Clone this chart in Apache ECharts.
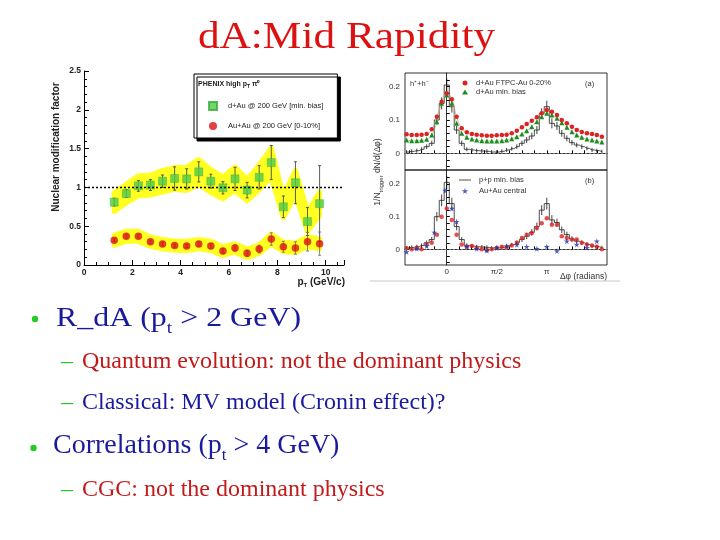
<!DOCTYPE html>
<html>
<head>
<meta charset="utf-8">
<script src="https://cdn.jsdelivr.net/npm/echarts@6/dist/echarts.min.js"></script>
<style>
  html, body { margin: 0; padding: 0; background: #fff; }
  #main { width: 720px; height: 540px; }
</style>
</head>
<body>
<div id="main"></div>
<script>
// ---- left plot: PHENIX pi0 nuclear modification factor ----
var ptBins = [1.25, 1.75, 2.25, 2.75, 3.25, 3.75, 4.25, 4.75, 5.25, 5.75, 6.25, 6.75, 7.25, 7.75, 8.25, 8.75, 9.25, 9.75];
var dAuRdA  = [0.81, 0.92, 1.02, 1.03, 1.08, 1.115, 1.11, 1.20, 1.08, 0.995, 1.11, 0.965, 1.13, 1.32, 0.75, 1.06, 0.56, 0.79];
var dAuStat = [0.05, 0.05, 0.07, 0.07, 0.08, 0.15, 0.13, 0.13, 0.09, 0.08, 0.15, 0.10, 0.15, 0.22, 0.14, 0.27, 0.18, 0.49];
var dAuSys  = [0.12, 0.12, 0.13, 0.13, 0.14, 0.14, 0.15, 0.16, 0.15, 0.14, 0.15, 0.14, 0.16, 0.19, 0.14, 0.16, 0.13, 0.15];
var auAuRAA  = [0.32, 0.37, 0.37, 0.30, 0.27, 0.25, 0.245, 0.27, 0.245, 0.18, 0.22, 0.15, 0.205, 0.335, 0.235, 0.22, 0.30, 0.275];
var auAuStat = [0.02, 0.02, 0.02, 0.02, 0.02, 0.02, 0.02, 0.03, 0.03, 0.03, 0.04, 0.04, 0.05, 0.08, 0.07, 0.08, 0.12, 0.15];
var auAuSys  = [0.065, 0.065, 0.065, 0.06, 0.06, 0.06, 0.06, 0.06, 0.06, 0.055, 0.055, 0.055, 0.055, 0.065, 0.06, 0.06, 0.065, 0.065];

// ---- right plot: STAR azimuthal correlations ----
var dphi = [-1.26, -1.10, -0.94, -0.79, -0.63, -0.47, -0.31, -0.16, 0, 0.16, 0.31, 0.47, 0.63, 0.79, 0.94, 1.10, 1.26, 1.41, 1.57, 1.73,
            1.88, 2.04, 2.20, 2.36, 2.51, 2.67, 2.83, 2.98, 3.14, 3.30, 3.46, 3.61, 3.77, 3.93, 4.08, 4.24, 4.40, 4.56, 4.71, 4.87];
var dAuCentral = [0.057, 0.055, 0.055, 0.056, 0.058, 0.072, 0.11, 0.155, 0.18, 0.162, 0.11, 0.075, 0.063, 0.058, 0.056, 0.054, 0.053, 0.053, 0.054, 0.055,
                  0.056, 0.06, 0.068, 0.078, 0.088, 0.098, 0.108, 0.12, 0.13, 0.125, 0.115, 0.10, 0.09, 0.08, 0.07, 0.064, 0.06, 0.058, 0.055, 0.05];
var dAuMinBias = [0.04, 0.038, 0.038, 0.039, 0.042, 0.055, 0.095, 0.15, 0.175, 0.15, 0.09, 0.06, 0.048, 0.043, 0.04, 0.038, 0.037, 0.037, 0.037, 0.038,
                  0.04, 0.044, 0.05, 0.058, 0.068, 0.08, 0.095, 0.11, 0.12, 0.115, 0.105, 0.092, 0.078, 0.065, 0.055, 0.048, 0.043, 0.04, 0.037, 0.034];
var ppMinBias = [0.004, 0.006, 0.008, 0.012, 0.02, 0.03, 0.10, 0.15, 0.205, 0.14, 0.07, 0.03, 0.012, 0.01, 0.008, 0.007, 0.006, 0.004, 0.004, 0.006,
                 0.01, 0.014, 0.02, 0.03, 0.04, 0.052, 0.07, 0.12, 0.14, 0.09, 0.082, 0.06, 0.045, 0.032, 0.025, 0.02, 0.015, 0.01, 0.008, 0.005];
var ppErr = [0.006, 0.006, 0.006, 0.006, 0.007, 0.008, 0.014, 0.018, 0.02, 0.018, 0.012, 0.008, 0.006, 0.006, 0.006, 0.006, 0.006, 0.006, 0.006, 0.006,
             0.006, 0.006, 0.007, 0.008, 0.009, 0.01, 0.012, 0.015, 0.018, 0.015, 0.012, 0.01, 0.009, 0.008, 0.007, 0.007, 0.006, 0.006, 0.006, 0.006];
var dAuSub = [0.003, 0.0, 0.005, 0.0, 0.015, 0.02, 0.045, 0.10, 0.125, 0.09, 0.045, 0.015, 0.008, 0.01, 0.005, 0.0, -0.002, 0.0, 0.005, 0.008,
              0.005, 0.012, 0.02, 0.035, 0.045, 0.05, 0.065, 0.08, 0.095, 0.075, 0.075, 0.04, 0.035, 0.03, 0.03, 0.02, 0.015, 0.012, 0.008, 0.0];
var auAuDphi = [-1.26, -0.94, -0.63, -0.39, -0.05, 0.16, 0.31, 0.63, 0.94, 1.26, 1.57, 1.88, 2.20, 2.51, 2.83, 3.14, 3.46, 3.77, 4.08, 4.40, 4.71];
var auAuCentral = [-0.008, 0.002, 0.01, 0.052, 0.18, 0.125, 0.085, 0.008, 0.002, -0.004, 0.004, 0.01, 0.014, 0.008, 0.002, 0.008, -0.005, 0.025, 0.015, 0.005, 0.025];
var phiLabels = [0, Math.PI / 2, Math.PI];
var phiTicks = [-1.178, -0.785, -0.393, 0, 0.393, 0.785, 1.178, 1.571, 1.963, 2.356, 2.749, 3.142, 3.534, 3.927, 4.320, 4.712];
var corrLabels = [0, 0.1, 0.2];
var corrTicks = [-0.04, -0.02, 0, 0.02, 0.04, 0.06, 0.08, 0.1, 0.12, 0.14, 0.16, 0.18, 0.2, 0.22];

var SERIF = '"Liberation Serif", "Times New Roman", serif';
var SANS = '"Liberation Sans", Arial, sans-serif';
var NAVY = '#1a1a9c';
var TXTRED = '#c21a1a';
var DOTGREEN = '#22cc22';
var STAR = 'path://M50,0 L61,35 L98,35 L68,57 L79,91 L50,70 L21,91 L32,57 L2,35 L39,35 Z';
var DASH = 'path://M0,0 L30,0 L30,2 L0,2 Z';

var chart = echarts.init(document.getElementById('main'));

function pairs(xs, ys) {
    return xs.map(function (x, i) { return [x, ys[i]]; });
}
function triples(xs, ys, es) {
    return xs.map(function (x, i) { return [x, ys[i], es[i]]; });
}

// vertical error bar with small caps
function errorBar(color, cap) {
    return function (params, api) {
        var x = api.value(0), y = api.value(1), e = api.value(2);
        var top = api.coord([x, y + e]);
        var bot = api.coord([x, y - e]);
        var st = { stroke: color, lineWidth: 0.8 };
        var kids = [{ type: 'line', shape: { x1: top[0], y1: top[1], x2: bot[0], y2: bot[1] }, style: st }];
        if (cap > 0) {
            kids.push({ type: 'line', shape: { x1: top[0] - cap, y1: top[1], x2: top[0] + cap, y2: top[1] }, style: st });
            kids.push({ type: 'line', shape: { x1: bot[0] - cap, y1: bot[1], x2: bot[0] + cap, y2: bot[1] }, style: st });
        }
        return { type: 'group', children: kids };
    };
}

// yellow systematic band drawn as one polygon through the axis scales
function band(vals, sys) {
    return function (params, api) {
        if (params.dataIndex !== 0) return null;
        var up = [], lo = [];
        for (var i = 0; i < ptBins.length; i++) {
            up.push(api.coord([ptBins[i], vals[i] + sys[i]]));
            lo.unshift(api.coord([ptBins[i], vals[i] - sys[i]]));
        }
        return {
            type: 'polygon',
            shape: { points: up.concat(lo) },
            style: { fill: '#ffff22', stroke: '#ffff22', lineWidth: 5, lineJoin: 'round' }
        };
    };
}

function slideText(x, baseline, text, color, size, align, sx) {
    return {
        type: 'text', x: x, y: baseline - 0.32 * size, z: 100, scaleX: sx || 1,
        style: {
            text: text, fill: color, fontSize: size, fontFamily: SERIF,
            align: align || 'left', verticalAlign: 'middle', lineHeight: Math.round(size * 1.3),
            rich: {
                sub: { fill: color, fontSize: Math.round(size * 0.62), fontFamily: SERIF,
                       verticalAlign: 'bottom', lineHeight: Math.round(size * 0.62) }
            }
        }
    };
}

var leftAxisLabel = { fontSize: 8.5, fontWeight: 'bold', color: '#222', fontFamily: SANS };
var rightAxisLabel = { fontSize: 8, color: '#333', fontFamily: SANS };

var option = {
    backgroundColor: '#ffffff',
    animation: false,
    grid: [
        { left: 84, top: 71, width: 260, height: 194 },
        { left: 405, top: 73, width: 202, height: 97, show: true, borderColor: '#000', borderWidth: 0.8 },
        { left: 405, top: 170, width: 202, height: 95, show: true, borderColor: '#000', borderWidth: 0.8 }
    ],
    xAxis: [
        {
            type: 'value', gridIndex: 0, min: 0, max: 10.76, interval: 2,
            axisLine: { lineStyle: { color: '#000', width: 1 } },
            axisTick: { inside: true, length: 5, lineStyle: { color: '#000' } },
            minorTick: { show: true, splitNumber: 4, length: 3, lineStyle: { color: '#000' } },
            axisLabel: Object.assign({ margin: 3, showMaxLabel: false }, leftAxisLabel),
            splitLine: { show: false }
        },
        {
            type: 'value', gridIndex: 1, min: -1.31, max: 5.03,
            axisLine: { lineStyle: { color: '#000', width: 0.8 } },
            axisTick: { inside: true, length: 3, customValues: phiTicks, lineStyle: { color: '#000' } },
            axisLabel: { show: false },
            splitLine: { show: false }
        },
        {
            type: 'value', gridIndex: 2, min: -1.31, max: 5.03,
            axisLine: { lineStyle: { color: '#000', width: 0.8 } },
            axisTick: { inside: true, length: 3, customValues: phiTicks, lineStyle: { color: '#000' } },
            axisLabel: Object.assign({
                margin: 3, customValues: phiLabels,
                formatter: function (v) {
                    if (Math.abs(v) < 1e-3) return '0';
                    if (Math.abs(v - Math.PI / 2) < 1e-3) return 'π/2';
                    return 'π';
                }
            }, rightAxisLabel),
            splitLine: { show: false }
        }
    ],
    yAxis: [
        {
            type: 'value', gridIndex: 0, min: 0, max: 2.5, interval: 0.5,
            axisLine: { show: true, lineStyle: { color: '#000', width: 1 } },
            axisTick: { show: true, inside: true, length: 5, lineStyle: { color: '#000' } },
            minorTick: { show: true, splitNumber: 5, length: 3, lineStyle: { color: '#000' } },
            axisLabel: Object.assign({ margin: 3 }, leftAxisLabel),
            splitLine: { show: false }
        },
        {
            type: 'value', gridIndex: 1, min: -0.05, max: 0.241,
            axisLine: { show: true, lineStyle: { color: '#000', width: 0.8 } },
            axisTick: { show: true, inside: true, length: 3, customValues: corrTicks, lineStyle: { color: '#000' } },
            axisLabel: Object.assign({ margin: 5, customValues: corrLabels }, rightAxisLabel),
            splitLine: { show: false }
        },
        {
            type: 'value', gridIndex: 2, min: -0.048, max: 0.243,
            axisLine: { show: true, lineStyle: { color: '#000', width: 0.8 } },
            axisTick: { show: true, inside: true, length: 3, customValues: corrTicks, lineStyle: { color: '#000' } },
            axisLabel: Object.assign({ margin: 5, customValues: corrLabels }, rightAxisLabel),
            splitLine: { show: false }
        }
    ],
    legend: [
        {
            left: 194, top: 74, orient: 'vertical',
            padding: [27, 14, 8, 14], itemGap: 11, itemWidth: 8, itemHeight: 8,
            backgroundColor: '#fff', borderColor: '#000', borderWidth: 1,
            shadowColor: '#000', shadowBlur: 0, shadowOffsetX: 3, shadowOffsetY: 3,
            textStyle: { fontSize: 7.5, color: '#222', fontFamily: SANS, padding: [0, 0, 0, 6] },
            data: [
                { name: 'd+Au @ 200 GeV [min. bias]', icon: 'rect' },
                { name: 'Au+Au @ 200 GeV [0-10%]', icon: 'circle' }
            ]
        },
        {
            left: 462, top: 79, orient: 'vertical', padding: 0, itemGap: 1, itemWidth: 6, itemHeight: 5,
            textStyle: { fontSize: 7.5, color: '#333', fontFamily: SANS, padding: [0, 0, 0, 3] },
            data: [
                { name: 'd+Au FTPC-Au 0-20%', icon: 'circle' },
                { name: 'd+Au min. bias', icon: 'triangle' }
            ]
        },
        {
            left: 459, top: 176, orient: 'vertical', padding: 0, itemGap: 3, itemWidth: 12, itemHeight: 6,
            textStyle: { fontSize: 7.5, color: '#333', fontFamily: SANS, padding: [0, 0, 0, 3] },
            data: [
                { name: 'p+p min. bias', icon: DASH },
                { name: 'Au+Au central', icon: STAR }
            ]
        }
    ],
    graphic: [
        // slide title and bullets
        slideText(346.5, 50, 'dA:Mid Rapidity', '#dd1111', 38, 'center', 1.14),
        { type: 'circle', z: 100, shape: { cx: 35, cy: 319, r: 3.2 }, style: { fill: DOTGREEN } },
        slideText(56, 328, 'R_dA (p{sub|t} > 2 GeV)', NAVY, 28, 'left', 1.14),
        slideText(61, 369, '–', DOTGREEN, 24),
        slideText(82, 369, 'Quantum evolution: not the dominant physics', TXTRED, 24),
        slideText(61, 410, '–', DOTGREEN, 24),
        slideText(82, 410, 'Classical: MV model (Cronin effect)?', NAVY, 24),
        { type: 'circle', z: 100, shape: { cx: 33.5, cy: 448, r: 3.2 }, style: { fill: DOTGREEN } },
        slideText(53, 455, 'Correlations (p{sub|t} > 4 GeV)', NAVY, 28),
        slideText(61, 497, '–', DOTGREEN, 24),
        slideText(82, 497, 'CGC: not the dominant physics', TXTRED, 24),

        // left plot annotations
        {
            type: 'text', x: 56, y: 147, rotation: Math.PI / 2, z: 100,
            style: { text: 'Nuclear modification factor', fontSize: 10, fontWeight: 'bold', fontFamily: SANS,
                     fill: '#222', align: 'center', verticalAlign: 'middle' }
        },
        {
            type: 'text', x: 345, y: 282, z: 100,
            style: { text: 'p{s|T} (GeV/c)', fontSize: 10, fontWeight: 'bold', fontFamily: SANS, fill: '#222',
                     align: 'right', verticalAlign: 'middle', lineHeight: 12,
                     rich: { s: { fontSize: 6, fontWeight: 'bold', fontFamily: SANS, fill: '#222', verticalAlign: 'bottom', lineHeight: 6 } } }
        },
        {
            type: 'text', x: 198, y: 84, z: 100,
            style: { text: 'PHENIX high p{s|T} π⁰', fontSize: 7, fontWeight: 'bold', fontFamily: SANS, fill: '#222',
                     verticalAlign: 'middle', lineHeight: 10,
                     rich: { s: { fontSize: 5, fontWeight: 'bold', fontFamily: SANS, fill: '#222', verticalAlign: 'bottom', lineHeight: 5 } } }
        },

        // right plot annotations
        {
            type: 'text', x: 378, y: 172, rotation: Math.PI / 2, z: 100,
            style: { text: '1/N{s|trigger} dN/d(Δφ)', fontSize: 8.5, fontFamily: SANS, fill: '#333',
                     align: 'center', verticalAlign: 'middle', lineHeight: 12,
                     rich: { s: { fontSize: 6, fontFamily: SANS, fill: '#333', verticalAlign: 'bottom', lineHeight: 6 } } }
        },
        { type: 'text', x: 410, y: 84, z: 100, style: { text: 'h⁺+h⁻', fontSize: 7.5, fontFamily: SANS, fill: '#333', verticalAlign: 'middle' } },
        { type: 'text', x: 585, y: 84, z: 100, style: { text: '(a)', fontSize: 7.5, fontFamily: SANS, fill: '#333', verticalAlign: 'middle' } },
        { type: 'text', x: 585, y: 181, z: 100, style: { text: '(b)', fontSize: 7.5, fontFamily: SANS, fill: '#333', verticalAlign: 'middle' } },
        { type: 'text', x: 607, y: 277, z: 100, style: { text: 'Δφ (radians)', fontSize: 8.5, fontFamily: SANS, fill: '#333', align: 'right', verticalAlign: 'middle' } },
        { type: 'line', z: 100, shape: { x1: 370, y1: 281, x2: 620, y2: 281 }, style: { stroke: '#c8c8c8', lineWidth: 1 } }
    ],
    series: [
        // left plot
        { type: 'custom', name: 'dAuBand', xAxisIndex: 0, yAxisIndex: 0, renderItem: band(dAuRdA, dAuSys), data: [[0, 0]], silent: true, z: 1 },
        { type: 'custom', name: 'AuAuBand', xAxisIndex: 0, yAxisIndex: 0, renderItem: band(auAuRAA, auAuSys), data: [[0, 0]], silent: true, z: 1 },
        {
            type: 'line', name: 'unity', xAxisIndex: 0, yAxisIndex: 0, data: [], silent: true,
            markLine: { symbol: 'none', silent: true, label: { show: false },
                        lineStyle: { color: '#000', type: [2, 2], width: 1.4 }, data: [{ yAxis: 1 }] }
        },
        { type: 'custom', name: 'dAuErr', xAxisIndex: 0, yAxisIndex: 0, renderItem: errorBar('#333', 1.5), data: triples(ptBins, dAuRdA, dAuStat), z: 3 },
        { type: 'custom', name: 'AuAuErr', xAxisIndex: 0, yAxisIndex: 0, renderItem: errorBar('#666', 1.5), data: triples(ptBins, auAuRAA, auAuStat), z: 3 },
        {
            type: 'scatter', name: 'd+Au @ 200 GeV [min. bias]', xAxisIndex: 0, yAxisIndex: 0,
            symbol: 'rect', symbolSize: 8, itemStyle: { color: '#4ccc4c', borderColor: '#3aa83a', borderWidth: 0.5 },
            data: pairs(ptBins, dAuRdA), z: 4
        },
        {
            type: 'scatter', name: 'Au+Au @ 200 GeV [0-10%]', xAxisIndex: 0, yAxisIndex: 0,
            symbol: 'circle', symbolSize: 7.5, itemStyle: { color: '#dd1010' },
            data: pairs(ptBins, auAuRAA), z: 4
        },

        // right plot, panel (a)
        {
            type: 'line', name: 'p+p min. bias', xAxisIndex: 1, yAxisIndex: 1, step: 'middle', symbol: 'none',
            lineStyle: { color: '#222', width: 0.8 }, itemStyle: { color: '#222' }, data: pairs(dphi, ppMinBias), z: 2,
            markLine: { symbol: 'none', silent: true, label: { show: false },
                        lineStyle: { color: '#888', type: [2, 2], width: 0.8 }, data: [{ yAxis: 0 }] }
        },
        { type: 'custom', name: 'ppErrA', xAxisIndex: 1, yAxisIndex: 1, renderItem: errorBar('#111', 0), data: triples(dphi, ppMinBias, ppErr), z: 3 },
        {
            type: 'line', name: 'd+Au min. bias', xAxisIndex: 1, yAxisIndex: 1, smooth: true,
            symbol: 'triangle', symbolSize: 5, itemStyle: { color: '#228a22' },
            lineStyle: { color: '#8ccf8c', width: 0.8 }, data: pairs(dphi, dAuMinBias), z: 4
        },
        {
            type: 'line', name: 'd+Au FTPC-Au 0-20%', xAxisIndex: 1, yAxisIndex: 1, smooth: true,
            symbol: 'circle', symbolSize: 4.5, itemStyle: { color: '#dd2222' },
            lineStyle: { color: '#ee9090', width: 0.8 }, data: pairs(dphi, dAuCentral), z: 4
        },

        // right plot, panel (b)
        {
            type: 'line', name: 'p+p min. bias', xAxisIndex: 2, yAxisIndex: 2, step: 'middle', symbol: 'none',
            lineStyle: { color: '#222', width: 0.8 }, itemStyle: { color: '#222' }, data: pairs(dphi, ppMinBias), z: 2,
            markLine: { symbol: 'none', silent: true, label: { show: false },
                        lineStyle: { color: '#888', type: [2, 2], width: 0.8 }, data: [{ yAxis: 0 }] }
        },
        { type: 'custom', name: 'ppErrB', xAxisIndex: 2, yAxisIndex: 2, renderItem: errorBar('#111', 0), data: triples(dphi, ppMinBias, ppErr), z: 3 },
        {
            type: 'scatter', name: 'd+Au central', xAxisIndex: 2, yAxisIndex: 2,
            symbol: 'circle', symbolSize: 4.5, itemStyle: { color: '#dd2222' }, data: pairs(dphi, dAuSub), z: 4
        },
        {
            type: 'scatter', name: 'Au+Au central', xAxisIndex: 2, yAxisIndex: 2,
            symbol: STAR, symbolSize: 6, itemStyle: { color: '#2233aa' }, data: pairs(auAuDphi, auAuCentral), z: 5
        }
    ]
};

chart.setOption(option);
</script>
</body>
</html>
